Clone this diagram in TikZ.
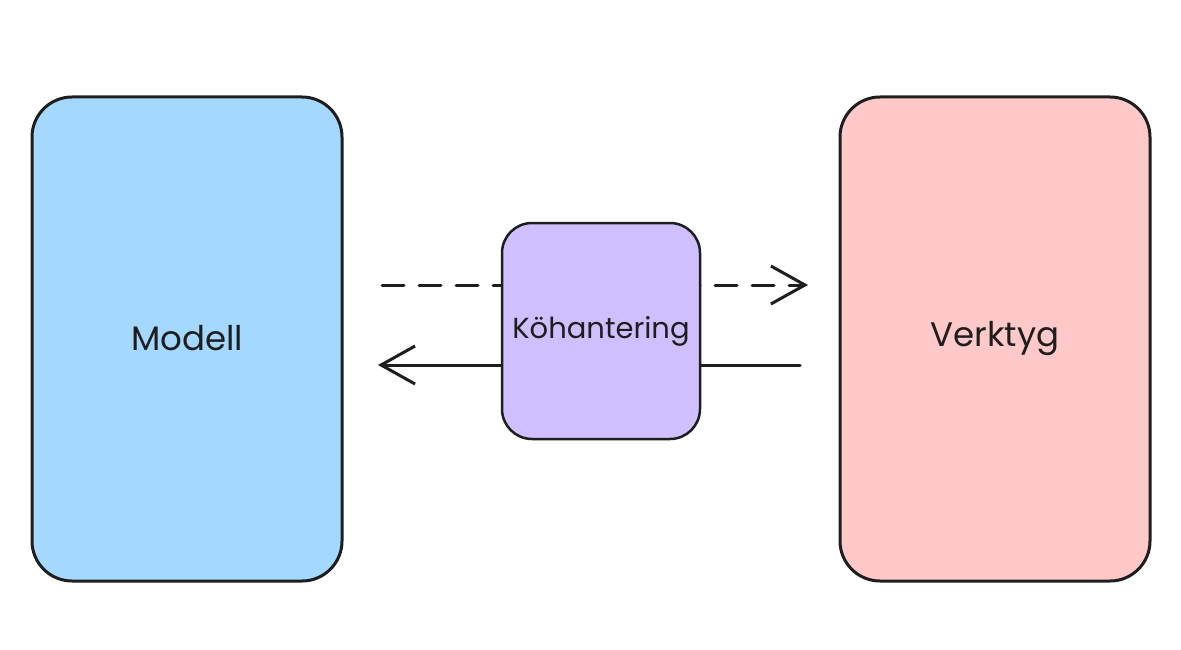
\documentclass[tikz,border=0pt]{standalone}
\usepackage{fontspec}
\setmainfont{Poppins}
\usetikzlibrary{arrows.meta}
\definecolor{ink}{HTML}{1E1E1E}
\definecolor{modelblue}{HTML}{A5D8FF}
\definecolor{toolpink}{HTML}{FFC9C9}
\definecolor{queuepurple}{HTML}{D0BFFF}
\tikzset{
  bigbox/.style={draw=ink, line width=3pt, rounded corners=40pt, minimum width=310pt, minimum height=484pt, inner sep=0pt, font=\fontsize{34}{38}\selectfont, text=ink},
  queuebox/.style={draw=ink, line width=2.5pt, rounded corners=30pt, minimum width=198pt, minimum height=216pt, inner sep=0pt, fill=queuepurple, font=\fontsize{29}{32}\selectfont, text=ink},
  flow/.style={draw=ink, line width=3pt, line cap=round, -{Straight Barb[length=34pt, width=38pt, line width=3pt]}},
}
\begin{document}
\begin{tikzpicture}[x=1pt, y=-1pt]
\useasboundingbox[fill=white] (0,0) rectangle (1181,650);
\coordinate (dstart) at (382,285);
\coordinate (dend) at (808,285);
\coordinate (sstart) at (800,365);
\coordinate (send) at (378,365);
\draw[flow, dash pattern=on 22pt off 15pt] (dstart) -- (dend);
\draw[flow] (sstart) -- (send);
\node[bigbox, fill=modelblue] (modell) at (187,339) {\raisebox{3pt}{Modell}};
\node[bigbox, fill=toolpink] (verktyg) at (995,339) {Verktyg};
\node[queuebox] (queue) at (601,331) {Köhantering};
\end{tikzpicture}
\end{document}
